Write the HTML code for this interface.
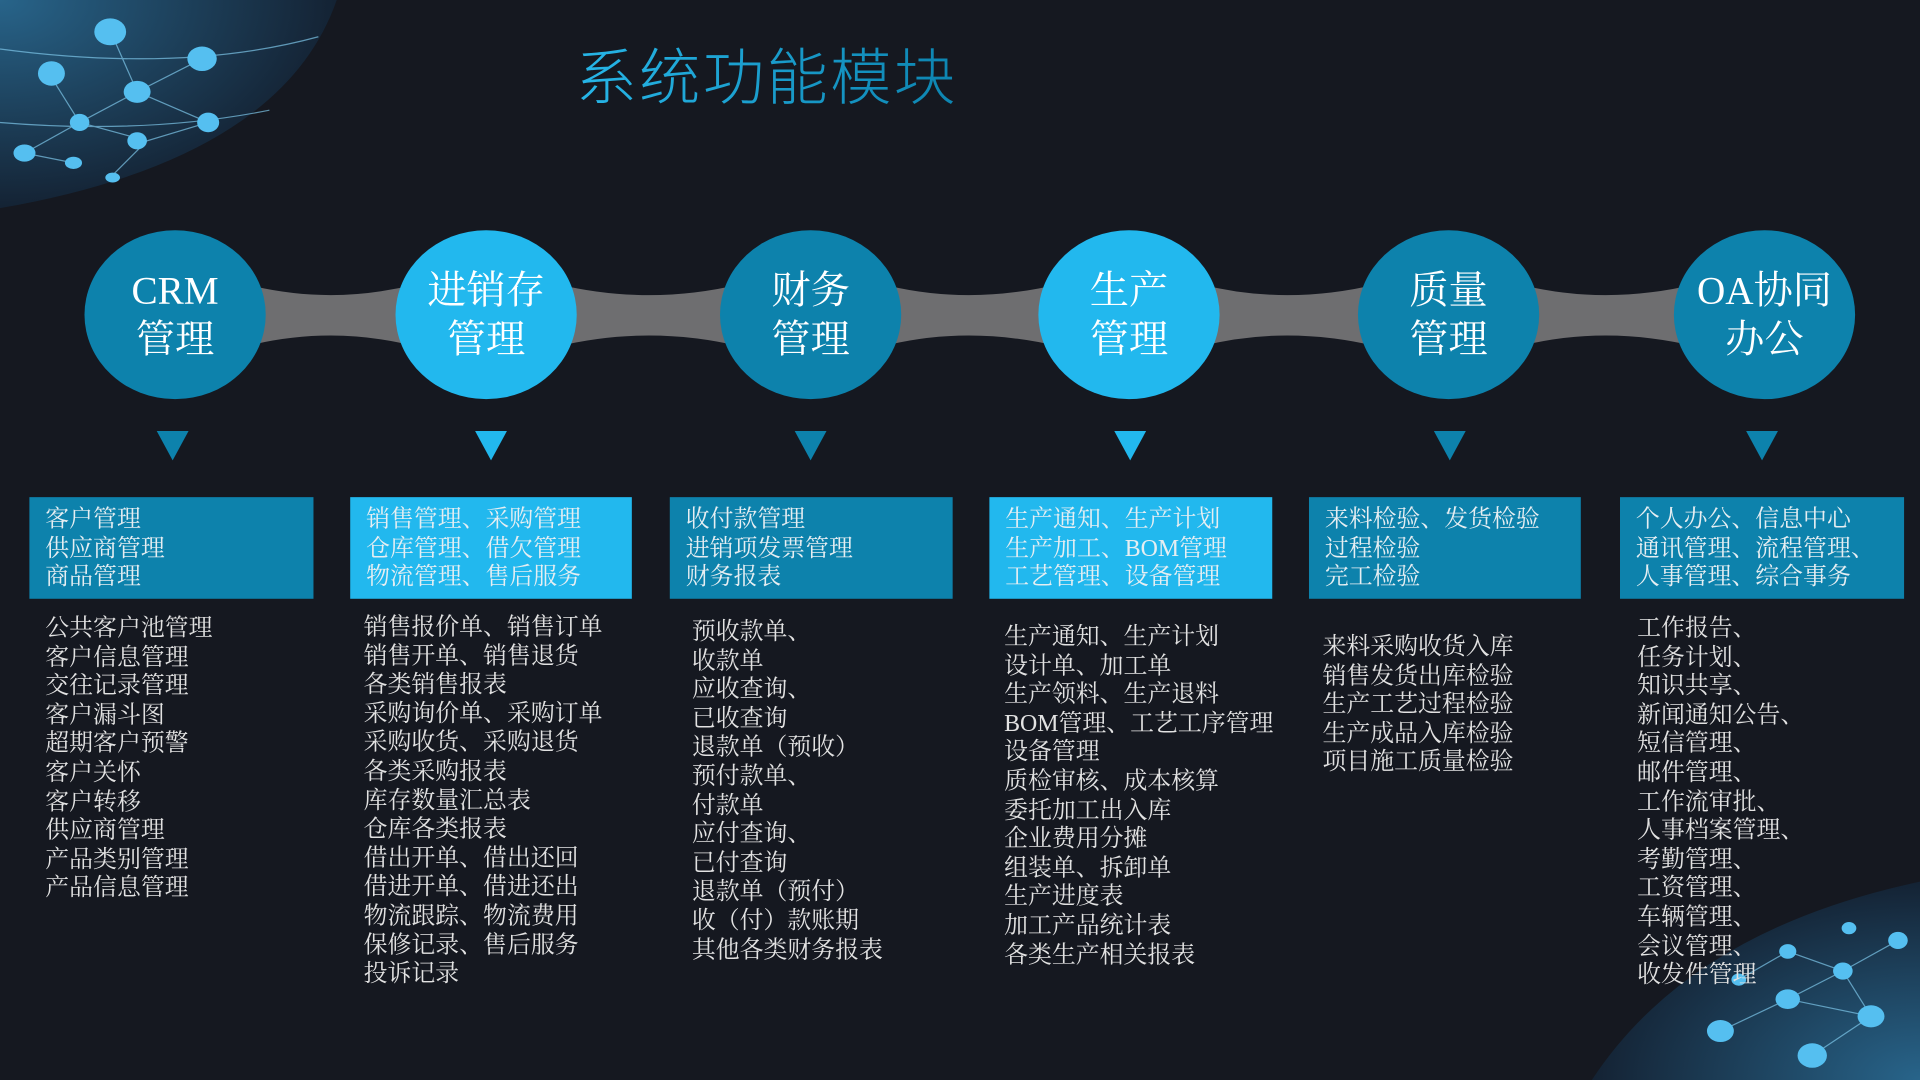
<!DOCTYPE html>
<html><head><meta charset="utf-8"><style>
html,body{margin:0;padding:0;width:1920px;height:1080px;overflow:hidden;background:#151820;}
#s{position:absolute;left:0;top:0;width:1568px;height:882px;transform:scale(1.22449,1.22449);transform-origin:0 0;font-family:"Liberation Serif","Noto Serif CJK SC",serif;}
.t{position:absolute;left:470px;top:24px;font-size:50px;color:#1a9cc8;letter-spacing:2px;font-family:"Liberation Sans","Noto Sans CJK SC",sans-serif;font-weight:300;background:linear-gradient(90deg,#27b6e8,#0d84b0);-webkit-background-clip:text;background-clip:text;-webkit-text-fill-color:transparent;}
.c{position:absolute;width:148px;height:138px;border-radius:50%;color:#fff;font-size:32px;line-height:40px;text-align:center;display:flex;align-items:center;justify-content:center;}
.d{background:#0d82ac}.l{background:#22b8ee}
.tr{position:absolute;top:352px;width:0;height:0;border-left:13px solid transparent;border-right:13px solid transparent;border-top:24px solid #0d82ac;}
.tr.l2{border-top-color:#22b8ee}
.b{position:absolute;top:406px;height:83px;color:#e6eef2;font-size:19.5px;line-height:23.5px;padding:7px 0 0 13px;box-sizing:border-box;white-space:nowrap;}
.li{position:absolute;color:#e2e2e2;font-size:19.5px;line-height:23.6px;white-space:nowrap;}
</style></head><body><div id="s">
<svg width="1568" height="882" style="position:absolute;left:0;top:0">
<defs><radialGradient id="g1" cx="0" cy="0" r="1"><stop offset="0" stop-color="#2a6d96"/><stop offset="1" stop-color="#142436"/></radialGradient>
<radialGradient id="g2" cx="1" cy="1" r="1"><stop offset="0" stop-color="#2a6d96"/><stop offset="1" stop-color="#142436"/></radialGradient></defs>
<path d="M0,0 L275,0 Q230,130 0,170 Z" fill="url(#g1)" opacity="0.9"/>
<g stroke="#7fc8ea" stroke-width="1" opacity="0.7" fill="none">
<path d="M40,60 L65,100 L112,75 L170,100 L120,115 L65,100 L20,125 L60,133"/><path d="M90,25 L112,75 L165,48"/><path d="M120,115 L90,145"/><path d="M0,40 Q150,60 260,30"/><path d="M0,100 Q120,110 220,90"/>
</g>
<g fill="#55bff0"><ellipse cx="90" cy="26" rx="13" ry="11"/><ellipse cx="165" cy="48" rx="12" ry="10"/><ellipse cx="42" cy="60" rx="11" ry="10"/><ellipse cx="112" cy="75" rx="11" ry="9"/><ellipse cx="65" cy="100" rx="8" ry="7"/><ellipse cx="170" cy="100" rx="9" ry="8"/><ellipse cx="112" cy="115" rx="8" ry="7"/><ellipse cx="20" cy="125" rx="9" ry="7"/><ellipse cx="60" cy="133" rx="7" ry="5"/><ellipse cx="92" cy="145" rx="6" ry="4"/></g>
<path d="M1568,720 Q1380,760 1300,882 L1568,882 Z" fill="url(#g2)" opacity="0.9"/>
<g stroke="#7fc8ea" stroke-width="1" opacity="0.7" fill="none"><path d="M1405,842 L1460,816 L1505,793 L1550,768 M1460,816 L1528,830 L1505,793 L1460,777 L1420,800 M1480,862 L1528,830"/></g>
<g fill="#55bff0"><ellipse cx="1405" cy="842" rx="11" ry="9"/><ellipse cx="1460" cy="816" rx="10" ry="8"/><ellipse cx="1505" cy="793" rx="8" ry="7"/><ellipse cx="1550" cy="768" rx="8" ry="7"/><ellipse cx="1528" cy="830" rx="11" ry="9"/><ellipse cx="1460" cy="777" rx="7" ry="6"/><ellipse cx="1420" cy="800" rx="6" ry="5"/><ellipse cx="1480" cy="862" rx="12" ry="10"/><ellipse cx="1510" cy="758" rx="6" ry="5"/></g>
<g fill="#6e6e70">
<path d="M200,232 Q270,250 340,232 L340,283 Q270,265 200,283 Z"/>
<path d="M455,232 Q530,250 605,232 L605,283 Q530,265 455,283 Z"/>
<path d="M720,232 Q790,250 865,232 L865,283 Q790,265 720,283 Z"/>
<path d="M980,232 Q1050,250 1125,232 L1125,283 Q1050,265 980,283 Z"/>
<path d="M1240,232 Q1310,250 1385,232 L1385,283 Q1310,265 1240,283 Z"/>
</g></svg>
<div class="t">系统功能模块</div>
<div class="c d" style="left:69px;top:188px">CRM<br>管理</div>
<div class="c l" style="left:323px;top:188px">进销存<br>管理</div>
<div class="c d" style="left:588px;top:188px">财务<br>管理</div>
<div class="c l" style="left:848px;top:188px">生产<br>管理</div>
<div class="c d" style="left:1109px;top:188px">质量<br>管理</div>
<div class="c d" style="left:1367px;top:188px">OA协同<br>办公</div>
<div class="tr" style="left:128px"></div><div class="tr l2" style="left:388px"></div><div class="tr" style="left:649px"></div><div class="tr l2" style="left:910px"></div><div class="tr" style="left:1171px"></div><div class="tr" style="left:1426px"></div>
<div class="b d" style="left:24px;width:232px">客户管理<br>供应商管理<br>商品管理</div>
<div class="b l" style="left:286px;width:230px">销售管理、采购管理<br>仓库管理、借欠管理<br>物流管理、售后服务</div>
<div class="b d" style="left:547px;width:231px">收付款管理<br>进销项发票管理<br>财务报表</div>
<div class="b l" style="left:808px;width:231px">生产通知、生产计划<br>生产加工、BOM管理<br>工艺管理、设备管理</div>
<div class="b d" style="left:1069px;width:222px">来料检验、发货检验<br>过程检验<br>完工检验</div>
<div class="b d" style="left:1323px;width:232px">个人办公、信息中心<br>通讯管理、流程管理、<br>人事管理、综合事务</div>
<div class="li" style="left:37px;top:502px">公共客户池管理<br>客户信息管理<br>交往记录管理<br>客户漏斗图<br>超期客户预警<br>客户关怀<br>客户转移<br>供应商管理<br>产品类别管理<br>产品信息管理</div>
<div class="li" style="left:297px;top:501px">销售报价单、销售订单<br>销售开单、销售退货<br>各类销售报表<br>采购询价单、采购订单<br>采购收货、采购退货<br>各类采购报表<br>库存数量汇总表<br>仓库各类报表<br>借出开单、借出还回<br>借进开单、借进还出<br>物流跟踪、物流费用<br>保修记录、售后服务<br>投诉记录</div>
<div class="li" style="left:565px;top:505px">预收款单、<br>收款单<br>应收查询、<br>已收查询<br>退款单（预收）<br>预付款单、<br>付款单<br>应付查询、<br>已付查询<br>退款单（预付）<br>收（付）款账期<br>其他各类财务报表</div>
<div class="li" style="left:820px;top:509px">生产通知、生产计划<br>设计单、加工单<br>生产领料、生产退料<br>BOM管理、工艺工序管理<br>设备管理<br>质检审核、成本核算<br>委托加工出入库<br>企业费用分摊<br>组装单、拆卸单<br>生产进度表<br>加工产品统计表<br>各类生产相关报表</div>
<div class="li" style="left:1080px;top:517px">来料采购收货入库<br>销售发货出库检验<br>生产工艺过程检验<br>生产成品入库检验<br>项目施工质量检验</div>
<div class="li" style="left:1337px;top:502px">工作报告、<br>任务计划、<br>知识共享、<br>新闻通知公告、<br>短信管理、<br>邮件管理、<br>工作流审批、<br>人事档案管理、<br>考勤管理、<br>工资管理、<br>车辆管理、<br>会议管理、<br>收发件管理</div>
</div></body></html>
